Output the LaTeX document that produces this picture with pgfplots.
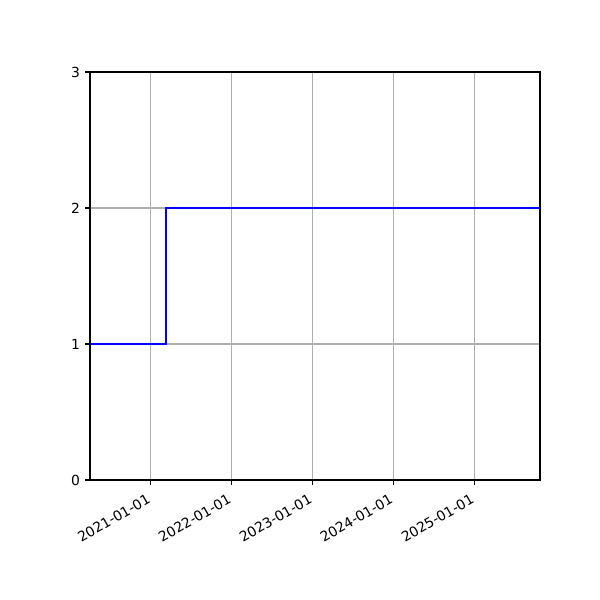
\documentclass[border=0pt]{standalone}
\usepackage{fontspec}
\setmainfont{DejaVu Sans}
\usepackage{pgfplots}
\pgfplotsset{compat=1.18}

% x values are days counted from 2020-01-01
\begin{document}
\begin{tikzpicture}
\path[use as bounding box] (-64.8pt,-86.4pt) rectangle (367.2pt,345.6pt);
\begin{axis}[
    at={(0,0)}, anchor=south west,
    scale only axis,
    width=324pt, height=293.76pt,
    xmin=93, xmax=2124,
    ymin=0, ymax=3,
    xtick={366,731,1096,1461,1827},
    xticklabels={2021-01-01,2022-01-01,2023-01-01,2024-01-01,2025-01-01},
    ytick={0,1,2,3},
    xtick pos=left, ytick pos=left,
    tick align=outside,
    major tick length=3.5pt,
    every tick/.style={black, line width=0.8pt},
    axis line style={line width=0.8pt},
    grid=major,
    grid style={color=black!31, line width=0.8pt},
    tick label style={font=\fontsize{10}{12}\selectfont},
    xticklabel style={rotate=30, anchor=north east, inner sep=0pt, yshift=-3.5pt, xshift=-5.6pt},
    yticklabel style={inner sep=0pt, xshift=-3.5pt},
    /pgf/number format/assume math mode=true,
]
\addplot[const plot, color=blue, line width=1.5pt] coordinates {
    (93,1) (435,2) (2124,2)
};
\end{axis}
\end{tikzpicture}
\end{document}
